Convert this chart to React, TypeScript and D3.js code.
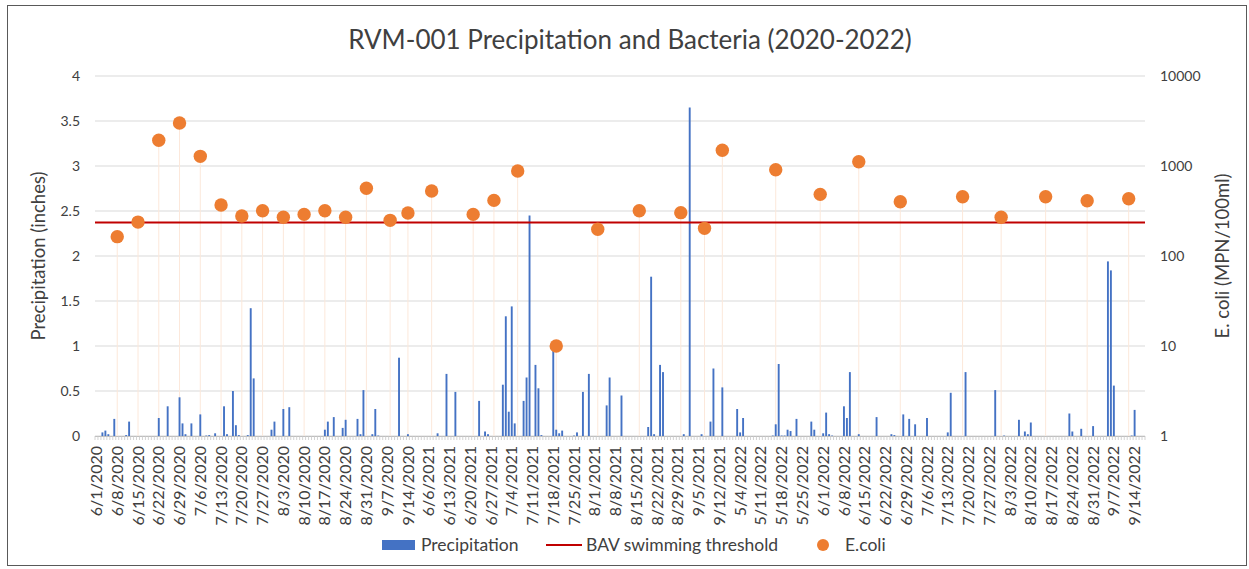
import * as React from "react";
import * as d3 from "d3";

// daily categories: one block per sampling season (text axis, so gaps are skipped)
const seasons: [string, string][] = [
  ["2020-06-01", "2020-09-17"],
  ["2021-06-03", "2021-09-15"],
  ["2022-05-01", "2022-09-17"],
];

// rainfall days only (inches); every other day is 0
const precipitation: [string, number][] = [
  ["6/3/2020", 0.04], ["6/4/2020", 0.06], ["6/5/2020", 0.02], ["6/7/2020", 0.19],
  ["6/11/2020", 0.01], ["6/12/2020", 0.16], ["6/22/2020", 0.2], ["6/25/2020", 0.33],
  ["6/29/2020", 0.43], ["6/30/2020", 0.14], ["7/1/2020", 0.02], ["7/3/2020", 0.14],
  ["7/6/2020", 0.24], ["7/8/2020", 0.005], ["7/9/2020", 0.01], ["7/11/2020", 0.03],
  ["7/14/2020", 0.33], ["7/15/2020", 0.02], ["7/17/2020", 0.5], ["7/18/2020", 0.12],
  ["7/19/2020", 0.01], ["7/22/2020", 0.01], ["7/23/2020", 1.42], ["7/24/2020", 0.64],
  ["7/30/2020", 0.07], ["7/31/2020", 0.16], ["8/3/2020", 0.3], ["8/5/2020", 0.32],
  ["8/17/2020", 0.07], ["8/18/2020", 0.16], ["8/20/2020", 0.21], ["8/23/2020", 0.09],
  ["8/24/2020", 0.18], ["8/28/2020", 0.19], ["8/29/2020", 0.02], ["8/30/2020", 0.51],
  ["9/2/2020", 0.02], ["9/3/2020", 0.3], ["9/4/2020", 0.005], ["9/11/2020", 0.87],
  ["9/14/2020", 0.02],
  ["6/9/2021", 0.03], ["6/12/2021", 0.69], ["6/15/2021", 0.49], ["6/23/2021", 0.39],
  ["6/25/2021", 0.05], ["6/26/2021", 0.02], ["7/1/2021", 0.57], ["7/2/2021", 1.33],
  ["7/3/2021", 0.27], ["7/4/2021", 1.44], ["7/5/2021", 0.14], ["7/8/2021", 0.39],
  ["7/9/2021", 0.65], ["7/10/2021", 2.45], ["7/12/2021", 0.79], ["7/13/2021", 0.53],
  ["7/14/2021", 0.01], ["7/18/2021", 0.95], ["7/19/2021", 0.07], ["7/20/2021", 0.03],
  ["7/21/2021", 0.06], ["7/25/2021", 0.005], ["7/26/2021", 0.04], ["7/28/2021", 0.49],
  ["7/30/2021", 0.69], ["8/5/2021", 0.34], ["8/6/2021", 0.65], ["8/10/2021", 0.45],
  ["8/19/2021", 0.1], ["8/20/2021", 1.77], ["8/21/2021", 0.02], ["8/23/2021", 0.79],
  ["8/24/2021", 0.71], ["8/31/2021", 0.02], ["9/2/2021", 3.65], ["9/6/2021", 0.02],
  ["9/9/2021", 0.16], ["9/10/2021", 0.75], ["9/13/2021", 0.54],
  ["5/3/2022", 0.3], ["5/4/2022", 0.04], ["5/5/2022", 0.2], ["5/15/2022", 0.005],
  ["5/16/2022", 0.13], ["5/17/2022", 0.8], ["5/18/2022", 0.005], ["5/19/2022", 0.005],
  ["5/20/2022", 0.07], ["5/21/2022", 0.055], ["5/23/2022", 0.19], ["5/28/2022", 0.16],
  ["5/29/2022", 0.07], ["6/1/2022", 0.03], ["6/2/2022", 0.26], ["6/3/2022", 0.02],
  ["6/4/2022", 0.005], ["6/8/2022", 0.33], ["6/9/2022", 0.2], ["6/10/2022", 0.71],
  ["6/13/2022", 0.02], ["6/19/2022", 0.21], ["6/24/2022", 0.02], ["6/25/2022", 0.01],
  ["6/28/2022", 0.24], ["6/30/2022", 0.19], ["7/2/2022", 0.13], ["7/6/2022", 0.2],
  ["7/13/2022", 0.04], ["7/14/2022", 0.48], ["7/19/2022", 0.71], ["7/29/2022", 0.51],
  ["8/1/2022", 0.005], ["8/6/2022", 0.18], ["8/8/2022", 0.05], ["8/9/2022", 0.02],
  ["8/10/2022", 0.15], ["8/23/2022", 0.25], ["8/24/2022", 0.05], ["8/27/2022", 0.08],
  ["8/31/2022", 0.11], ["9/5/2022", 1.94], ["9/6/2022", 1.84], ["9/7/2022", 0.56],
  ["9/13/2022", 0.005], ["9/14/2022", 0.29],
];

// E. coli samples (MPN/100ml)
const ecoli: [string, number][] = [
  ["6/8/2020", 164], ["6/15/2020", 238], ["6/22/2020", 1930], ["6/29/2020", 3000],
  ["7/6/2020", 1280], ["7/13/2020", 368], ["7/20/2020", 278], ["7/27/2020", 318],
  ["8/3/2020", 269], ["8/10/2020", 290], ["8/17/2020", 318], ["8/24/2020", 269],
  ["8/31/2020", 565], ["9/8/2020", 249], ["9/14/2020", 300],
  ["6/7/2021", 527], ["6/21/2021", 290], ["6/28/2021", 415], ["7/6/2021", 880],
  ["7/19/2021", 10], ["8/2/2021", 198], ["8/16/2021", 318], ["8/30/2021", 303],
  ["9/7/2021", 203], ["9/13/2021", 1495],
  ["5/16/2022", 910], ["5/31/2022", 484], ["6/13/2022", 1116], ["6/27/2022", 401],
  ["7/18/2022", 456], ["7/31/2022", 269], ["8/15/2022", 456], ["8/29/2022", 411],
  ["9/12/2022", 433],
];

const bavThreshold = 235;
const precipTicks = [0, 0.5, 1, 1.5, 2, 2.5, 3, 3.5, 4];
const ecoliTicks = [1, 10, 100, 1000, 10000];

const W = 1249;
const H = 569;
const margin = { top: 76, right: 104, bottom: 133, left: 95 };
const font = "Lato, 'Open Sans', sans-serif";
const ink = "#404040";

const parse = d3.timeParse("%Y-%m-%d");
const fmt = d3.timeFormat("%-m/%-d/%Y");

export default function App() {
  const categories = React.useMemo(
    () =>
      seasons.flatMap(([a, b]) => {
        const end = d3.timeDay.offset(parse(b)!, 1);
        return d3.timeDay.range(parse(a)!, end).map(fmt);
      }),
    [],
  );

  const x0 = margin.left;
  const x1 = W - margin.right;
  const y0 = H - margin.bottom;
  const y1 = margin.top;

  const x = d3.scaleBand<string>().domain(categories).range([x0, x1]).padding(0);
  const bw = x.bandwidth();
  const yP = d3.scaleLinear().domain([0, 4]).range([y0, y1]);
  const yE = d3.scaleLog().domain([1, 10000]).range([y0, y1]);
  const cx = (d: string) => (x(d) ?? 0) + bw / 2;

  const labelCats = categories.filter((_, i) => i % 7 === 0);

  return (
    <div style={{ position: "absolute", left: 0, top: 0 }}>
      <svg width={W} height={H} style={{ display: "block", background: "#fff", fontFamily: font }}>
        <rect x={7.5} y={5.5} width={1239} height={560} fill="#fff" stroke="#595959" strokeWidth={1} />

        <text x={630} y={49} textAnchor="middle" fontSize={26} fill={ink}>
          RVM-001 Precipitation and Bacteria (2020-2022)
        </text>

        {/* gridlines */}
        {precipTicks.map((t) => (
          <line key={t} x1={x0} x2={x1} y1={yP(t)} y2={yP(t)} stroke="#d9d9d9" strokeWidth={1.2} />
        ))}

        {/* drop lines under each sample */}
        {ecoli.map(([d, v]) => (
          <line key={"drop" + d} x1={cx(d)} x2={cx(d)} y1={yE(v)} y2={y0} stroke="#fce8da" strokeWidth={1} />
        ))}

        {/* precipitation bars */}
        {precipitation.map(([d, v]) => (
          <rect
            key={d}
            x={cx(d) - bw * 0.32}
            y={yP(v)}
            width={bw * 0.64}
            height={y0 - yP(v)}
            fill="#4472c4"
          />
        ))}

        {/* x axis line + tick comb */}
        <line x1={x0} x2={x1} y1={y0 + 0.5} y2={y0 + 0.5} stroke="#bfbfbf" strokeWidth={1} />
        {categories.map((d) => (
          <line key={"t" + d} x1={x(d)!} x2={x(d)!} y1={y0} y2={y0 + 4} stroke="#c8c8c8" strokeWidth={0.8} />
        ))}
        <line x1={x1} x2={x1} y1={y0} y2={y0 + 4} stroke="#c8c8c8" strokeWidth={0.8} />

        {/* threshold */}
        <line x1={x0} x2={x1} y1={yE(bavThreshold)} y2={yE(bavThreshold)} stroke="#c00000" strokeWidth={2} />

        {/* E. coli markers */}
        {ecoli.map(([d, v]) => (
          <circle key={"e" + d} cx={cx(d)} cy={yE(v)} r={6.7} fill="#ed7d31" />
        ))}

        {/* left axis */}
        {precipTicks.map((t) => (
          <text key={"l" + t} x={80} y={yP(t)} dy="0.35em" textAnchor="end" fontSize={14} fill={ink}>
            {t}
          </text>
        ))}
        {/* right axis */}
        {ecoliTicks.map((t) => (
          <text key={"r" + t} x={1160} y={yE(t)} dy="0.35em" textAnchor="start" fontSize={14} fill={ink}>
            {t}
          </text>
        ))}

        {/* category labels */}
        {labelCats.map((d) => (
          <text
            key={"c" + d}
            transform={`translate(${cx(d)},${y0 + 10}) rotate(-90)`}
            textAnchor="end"
            dy="0.35em"
            fontSize={16}
            fill={ink}
          >
            {d}
          </text>
        ))}

        <text transform={`translate(45,${(y0 + y1) / 2}) rotate(-90)`} textAnchor="middle" fontSize={18.5} fill={ink}>
          Precipitation (inches)
        </text>
        <text transform={`translate(1229,${(y0 + y1) / 2}) rotate(-90)`} textAnchor="middle" fontSize={18.5} fill={ink}>
          E. coli (MPN/100ml)
        </text>

        {/* legend */}
        <rect x={382} y={540} width={33} height={10} fill="#4472c4" />
        <text x={421} y={551} fontSize={17.5} fill={ink}>Precipitation</text>
        <line x1={546} x2={582} y1={545} y2={545} stroke="#c00000" strokeWidth={2} />
        <text x={586} y={551} fontSize={17.5} fill={ink}>BAV swimming threshold</text>
        <circle cx={823} cy={545} r={6} fill="#ed7d31" />
        <text x={845} y={551} fontSize={17.5} fill={ink}>E.coli</text>
      </svg>
    </div>
  );
}
